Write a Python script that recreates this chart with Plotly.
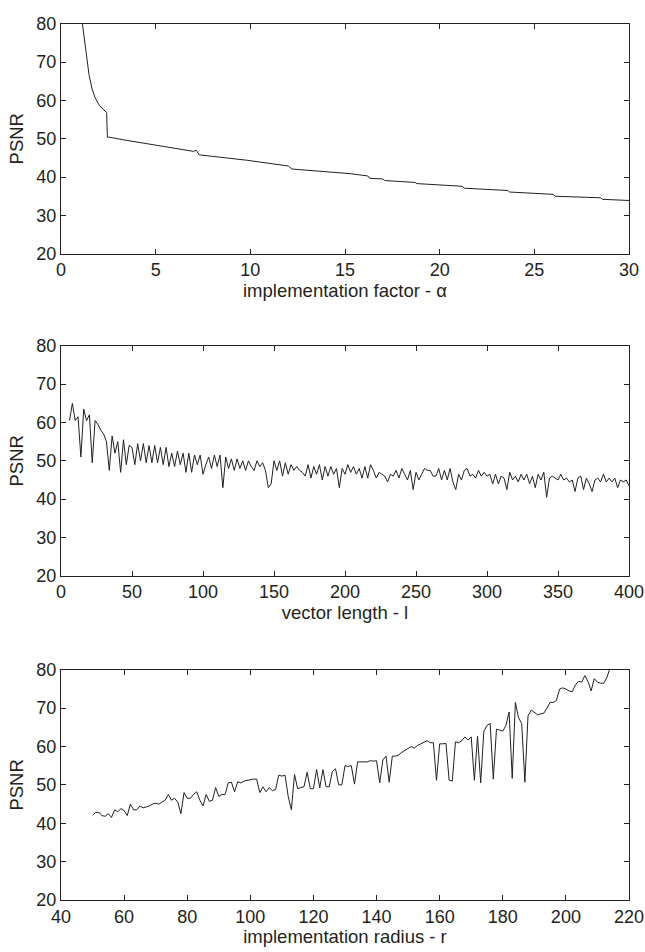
import plotly.graph_objects as go
from plotly.subplots import make_subplots

# ---- Panel 1: PSNR vs implementation factor alpha ----
alpha_x = [1.13, 1.26, 1.37, 1.48, 1.63, 1.80, 2.02, 2.23, 2.41, 2.45, 2.56, 3.32, 5.0, 7.0, 7.14, 7.3,
           9.8, 12.0, 12.2, 15.25, 16.2, 16.3, 17.0, 17.1, 18.7, 18.8, 21.2, 21.3, 23.6, 23.7,
           26.0, 26.1, 28.5, 28.6, 30.0]
alpha_psnr = [80.0, 75.2, 70.1, 66.7, 63.2, 60.7, 58.7, 57.7, 56.8, 50.4, 50.4, 49.7, 48.3, 46.7, 47.0, 45.8,
              44.4, 42.9, 42.1, 40.9, 40.3, 39.7, 39.5, 39.1, 38.6, 38.3, 37.6, 37.1, 36.5, 36.1,
              35.5, 35.0, 34.6, 34.2, 33.9]

# ---- Panel 2: PSNR vs vector length l ----
length_x = list(range(6, 401, 2))
length_psnr = [
    60.5, 65, 60.5, 61.5, 51, 63.5, 60.5, 62, 49.5, 60.5,
    59.5, 58, 57, 55, 47.5, 56.5, 52, 55, 47, 55.5,
    49, 54, 53.5, 49, 54.5, 50, 54.5, 49.5, 54, 49.5,
    54, 49.5, 53.5, 49, 53.5, 48.5, 52, 48.5, 52.5, 49,
    52, 47, 52, 47, 51.5, 49, 51.5, 46.5, 49, 51,
    48, 51.5, 48.5, 51.5, 43, 51, 48, 50.5, 47.5, 50.5,
    48, 50, 47.5, 50, 48.5, 47.5, 50, 48.5, 49.5, 47.5,
    43, 44, 50, 47.5, 50, 46, 49.5, 46.5, 49, 47.5,
    48.5, 47.5, 47, 46, 49, 45.5, 48.5, 46.5, 49, 45,
    48.5, 46, 48.5, 46.5, 48, 43, 48, 46.5, 49, 47,
    48.5, 46.5, 48, 45.5, 48.5, 45.5, 49, 47.5, 45.5, 47,
    46.5, 46, 44.5, 46.5, 46, 47.5, 45.5, 48, 46.5, 45,
    47.5, 42.5, 47, 45, 46.5, 48, 47.5, 47.5, 46, 46,
    48, 45, 47.5, 45, 48, 44.5, 42.5, 46.5, 45, 47.5,
    48, 46, 46.5, 45.5, 47.5, 46, 47, 46, 46.5, 44,
    46.5, 44, 46, 45.5, 42.5, 47, 45, 46, 44.5, 46.5,
    45, 46.5, 44, 46, 43, 46.5, 45, 47, 40.5, 45.5,
    46, 45.5, 45, 46.5, 45, 45.5, 44.5, 45, 42, 45.5,
    46, 42.5, 45.5, 44, 42, 45, 45.5, 44.5, 46.5, 44.5,
    45.5, 44.5, 45.5, 43, 45, 44.5, 45, 43.5,
]

# ---- Panel 3: PSNR vs implementation radius r ----
radius_x = list(range(50, 215))
radius_psnr = [
    42.1, 42.8, 42.8, 42.0, 41.8, 42.5, 41.5, 43.5, 43.0, 43.8,
    43.3, 42.0, 45.0, 43.5, 43.5, 44.5, 44.0, 44.2, 44.5, 45.0,
    45.2, 45.0, 45.5, 46.0, 47.5, 46.0, 46.5, 45.5, 42.5, 48.0,
    46.5, 46.5, 47.5, 48.2, 46.0, 44.5, 47.5, 45.7, 46.0, 49.3,
    47.0, 47.5, 47.5, 50.5, 50.7, 48.2, 50.8, 50.5, 51.0, 51.2,
    51.5, 51.5, 51.5, 48.0, 49.5, 48.2, 49.3, 48.5, 48.8, 52.5,
    52.3, 52.5, 47.0, 43.5, 52.7, 49.0, 49.3, 49.5, 53.3, 49.0,
    49.0, 54.0, 49.2, 54.0, 49.5, 49.5, 53.5, 54.2, 50.0, 50.0,
    55.0, 54.8, 55.0, 50.2, 56.0, 56.0, 56.0, 56.0, 56.3, 56.2,
    56.3, 50.5, 56.5, 57.5, 50.7, 57.5, 57.5, 57.8, 58.5, 59.0,
    59.5, 60.0, 59.6, 60.3, 60.7, 61.2, 61.5, 61.0, 61.0, 51.2,
    60.7, 60.7, 60.8, 51.2, 51.0, 61.2, 61.0, 61.5, 62.5, 61.7,
    62.5, 51.2, 62.7, 50.5, 64.0, 65.5, 66.0, 51.5, 64.5, 64.3,
    64.0, 65.5, 69.0, 51.7, 71.5, 67.5, 66.0, 50.7, 68.0, 69.5,
    69.0, 68.3, 68.5, 68.7, 70.0, 71.5, 71.5, 72.0, 75.0, 75.3,
    75.0, 74.5, 74.3, 76.0, 77.0, 76.8, 78.5, 77.0, 74.5, 77.7,
    76.8, 76.5, 76.5, 78.0, 80.5,
]

x_titles = ["implementation factor - α", "vector length - l", "implementation radius - r"]
x_ranges = [[0, 30], [0, 400], [40, 220]]
x_dticks = [5, 50, 20]

INK = "#231f20"
FONT = "Liberation Sans, Arial, Helvetica, sans-serif"

fig = make_subplots(rows=3, cols=1)
series = [(alpha_x, alpha_psnr), (length_x, length_psnr), (radius_x, radius_psnr)]
for i, (xs, ys) in enumerate(series, start=1):
    fig.add_trace(go.Scatter(x=xs, y=ys, mode="lines",
                             line=dict(color=INK, width=1.0), showlegend=False,
                             hoverinfo="skip"),
                  row=i, col=1)

H = 952.0
domains = [[1 - 249 / H, 1 - 14 / H], [1 - 578 / H, 1 - 343 / H], [1 - 909 / H, 1 - 674 / H]]

axis_common = dict(showline=True, linecolor=INK, linewidth=1, mirror="ticks",
                   ticks="inside", ticklen=5, tickwidth=1, tickcolor=INK,
                   showgrid=False, zeroline=False,
                   tickfont=dict(family=FONT, size=18, color=INK))

for i in range(3):
    fig.update_xaxes(range=x_ranges[i], dtick=x_dticks[i], tick0=x_ranges[i][0],
                     ticklabeloverflow="allow",
                     title=dict(text=x_titles[i], font=dict(family=FONT, size=18.5, color=INK), standoff=0),
                     row=i + 1, col=1, **axis_common)
    fig.update_yaxes(range=[20, 80], dtick=10, domain=domains[i],
                     title=dict(text="PSNR", font=dict(family=FONT, size=18.5, color=INK), standoff=7),
                     row=i + 1, col=1, **axis_common)

fig.update_layout(width=645, height=952, margin=dict(l=61, r=16, t=0, b=0),
                  plot_bgcolor="white", paper_bgcolor="white",
                  font=dict(family=FONT, color=INK))

fig.write_html(
    "out.html",
    config={"displayModeBar": False, "staticPlot": True},
    post_script=(
        "document.body.style.margin='0';"
        "document.body.style.overflow='hidden';"
        "document.documentElement.style.overflow='hidden';"
    ),
)
